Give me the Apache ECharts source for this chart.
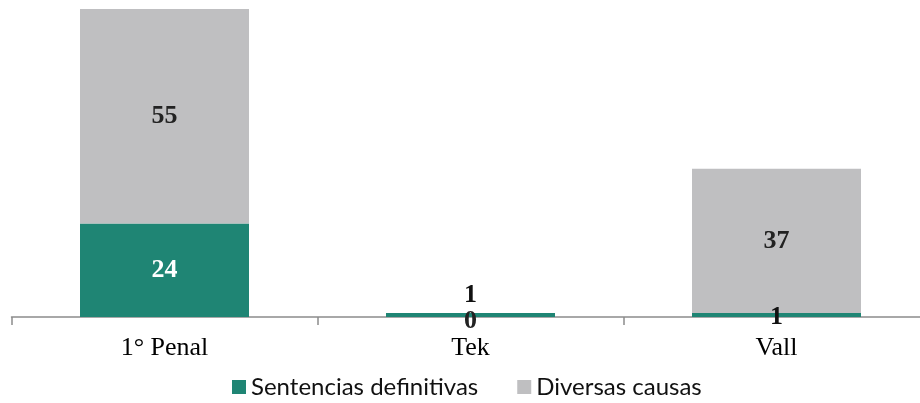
<!DOCTYPE html>
<html>
<head>
<meta charset="utf-8">
<title>Sentencias</title>
<script src="https://cdn.jsdelivr.net/npm/echarts@6/dist/echarts.min.js"></script>
<style>
  html, body { margin: 0; background: #fff; overflow: hidden; }
  /* el eje sigue más allá del borde derecho */
  #main { width: 930px; height: 403px; }
</style>
</head>
<body>
<div id="main"></div>
<script>
  // datos
  var categorias = ['1° Penal', 'Tek', 'Vall'];
  var sentencias = [24, 1, 1];
  var diversas = [55, 0, 37];

  var verde = '#1F8574';
  var gris = '#BFBFC1';

  var chart = echarts.init(document.getElementById('main'));

  var etiquetaBase = {
    show: true,
    fontFamily: 'Liberation Serif',
    fontWeight: 'bold',
    fontSize: 26
  };

  // etiquetas de Tek movidas a mano
  var datosVerde = sentencias.map(function (v, i) {
    var d = { value: v };
    if (i === 0) d.label = { color: '#fff' };
    if (i === 1) d.label = { position: 'top', distance: 5, color: '#111' };
    if (i === 2) d.label = { color: '#111', offset: [0, 2] };
    return d;
  });
  var datosGris = diversas.map(function (v, i) {
    var d = { value: v };
    if (i === 1) d.label = { position: 'inside', offset: [0, 8] };
    return d;
  });

  chart.setOption({
    animation: false,
    grid: { left: 11.5, right: 0.5, top: 9, bottom: 86 },
    legend: {
      top: 375,
      left: 232,
      padding: 0,
      itemWidth: 14,
      itemHeight: 14,
      itemGap: 39,
      icon: 'rect',
      textStyle: { fontFamily: 'Lato', fontSize: 24, color: '#111' },
      data: ['Sentencias definitivas', 'Diversas causas']
    },
    xAxis: {
      type: 'category',
      data: categorias,
      axisLine: { lineStyle: { color: '#8c8c8c', width: 1.5 } },
      axisTick: { show: true, length: 8, alignWithLabel: false, lineStyle: { color: '#8c8c8c', width: 1.5 } },
      axisLabel: { fontFamily: 'Liberation Serif', fontSize: 26, color: '#000', margin: 18 }
    },
    yAxis: {
      type: 'value',
      min: 0,
      max: 79,
      show: false,
      splitLine: { show: false }
    },
    series: [
      {
        name: 'Sentencias definitivas',
        type: 'bar',
        stack: 'total',
        barWidth: 169,
        itemStyle: { color: verde },
        label: Object.assign({}, etiquetaBase, { position: 'inside', color: '#fff' }),
        data: datosVerde
      },
      {
        name: 'Diversas causas',
        type: 'bar',
        stack: 'total',
        barWidth: 169,
        itemStyle: { color: gris },
        label: Object.assign({}, etiquetaBase, { position: 'inside', color: '#222' }),
        data: datosGris
      }
    ]
  });
</script>
</body>
</html>
